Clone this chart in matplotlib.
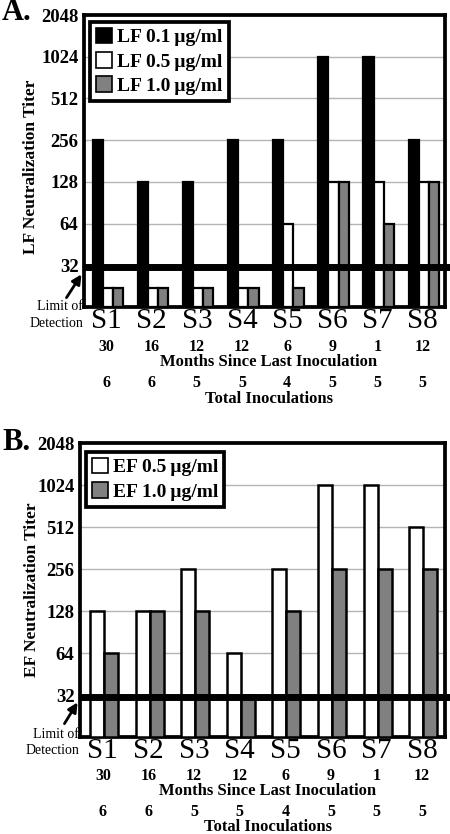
import matplotlib
matplotlib.use("Agg")
import matplotlib.pyplot as plt
from matplotlib.transforms import blended_transform_factory
from matplotlib.patches import Patch, FancyArrowPatch

plt.rcParams['font.family'] = ['Liberation Serif', 'DejaVu Serif']

subjects = ["S1", "S2", "S3", "S4", "S5", "S6", "S7", "S8"]
months = ["30", "16", "12", "12", "6", "9", "1", "12"]
total_inoc = ["6", "6", "5", "5", "4", "5", "5", "5"]

lf_01 = [256, 128, 128, 256, 256, 1024, 1024, 256]
lf_05 = [22, 22, 22, 22, 64, 128, 128, 128]
lf_10 = [22, 22, 22, 22, 22, 128, 64, 128]

ef_05 = [128, 128, 256, 64, 256, 1024, 1024, 512]
ef_10 = [64, 128, 128, 32, 128, 256, 256, 256]

yticks = [32, 64, 128, 256, 512, 1024, 2048]
limit_of_detection = 31

W, H = 450, 834
fig = plt.figure(figsize=(W / 100, H / 100), dpi=100)


def fx(px):
    return px / W


def fy(py):
    return 1 - py / H


def make_axes(left, right, top, bottom):
    return fig.add_axes([fx(left), fy(bottom), fx(right) - fx(left), fy(top) - fy(bottom)])


def style_axes(ax, ylabel):
    ax.set_yscale('log', base=2)
    ax.set_ylim(16, 2048)
    ax.set_xlim(-0.5, 7.5)
    ax.set_yticks(yticks)
    ax.set_yticklabels([str(t) for t in yticks], fontsize=13.5, fontweight='bold')
    ax.minorticks_off()
    ax.tick_params(axis='y', length=0, pad=4)
    ax.tick_params(axis='x', length=0, pad=1)
    ax.set_xticks(range(len(subjects)))
    ax.set_xticklabels(subjects, fontsize=21)
    ax.grid(axis='y', color='#b4b4b4', linewidth=1.0)
    ax.set_axisbelow(True)
    for s in ax.spines.values():
        s.set_linewidth(2.7)
    ax.set_ylabel(ylabel, fontsize=12.5, fontweight='bold')
    ax.plot([-0.5, 7.62], [limit_of_detection, limit_of_detection], color='black',
            linewidth=5, clip_on=False, zorder=5, solid_capstyle='butt')


def annotate_bottom(ax, y_months, y_mlabel, y_total, y_tlabel, xcenter_px):
    tr = blended_transform_factory(ax.transData, fig.transFigure)
    for i in range(len(subjects)):
        ax.text(i, fy(y_months), months[i], transform=tr, ha='center', va='center',
                fontsize=11.5, fontweight='bold')
        ax.text(i, fy(y_total), total_inoc[i], transform=tr, ha='center', va='center',
                fontsize=11.5, fontweight='bold')
    fig.text(fx(xcenter_px), fy(y_mlabel), "Months Since Last Inoculation", ha='center',
             va='center', fontsize=12, fontweight='bold')
    fig.text(fx(xcenter_px), fy(y_tlabel), "Total Inoculations", ha='center',
             va='center', fontsize=12, fontweight='bold')


def limit_text(y_limit, y_detect, right_px, arrow_tail, arrow_head):
    fig.text(fx(right_px), fy(y_limit), "Limit of", ha='right', va='center', fontsize=10)
    fig.text(fx(right_px), fy(y_detect), "Detection", ha='right', va='center', fontsize=10)
    fig.patches.append(FancyArrowPatch(
        (fx(arrow_tail[0]), fy(arrow_tail[1])), (fx(arrow_head[0]), fy(arrow_head[1])),
        transform=fig.transFigure, arrowstyle='-|>', mutation_scale=14,
        color='black', linewidth=2))


def make_legend(ax, handles, labels, anchor):
    leg = ax.legend(handles, labels, loc='upper left', bbox_to_anchor=anchor, fancybox=False,
                    handlelength=0.85, handleheight=0.85, handletextpad=0.25, borderpad=0.3,
                    labelspacing=0.3, borderaxespad=0.0,
                    prop={'size': 14, 'weight': 'bold'})
    leg.get_frame().set_edgecolor('black')
    leg.get_frame().set_linewidth(2.7)
    leg.get_frame().set_alpha(1)
    leg.set_zorder(10)
    return leg


xs = list(range(len(subjects)))
base = 16

# ---------------- Panel A ----------------
axA = make_axes(84, 445, 15, 307)
bw = 0.225
sh = 0.03
axA.bar([x - bw + sh for x in xs], [v - base for v in lf_01], bottom=base, width=bw,
        color='black', edgecolor='black', linewidth=1.6, zorder=3)
axA.bar([x + sh for x in xs], [v - base for v in lf_05], bottom=base, width=bw,
        color='white', edgecolor='black', linewidth=1.6, zorder=3)
axA.bar([x + bw + sh for x in xs], [v - base for v in lf_10], bottom=base, width=bw,
        color='#808080', edgecolor='black', linewidth=1.6, zorder=3)
style_axes(axA, "LF Neutralization Titer")
axA.yaxis.set_label_coords(-0.125, 0.48)
hA = [Patch(facecolor='black', edgecolor='black', linewidth=1.2),
      Patch(facecolor='white', edgecolor='black', linewidth=1.2),
      Patch(facecolor='#808080', edgecolor='black', linewidth=1.2)]
make_legend(axA, hA, ["LF 0.1\u2009\u00b5g/ml", "LF 0.5\u2009\u00b5g/ml", "LF 1.0\u2009\u00b5g/ml"],
            (0.017, 0.976))
fig.text(fx(2), fy(13), "A.", ha='left', va='center', fontsize=22, fontweight='bold')
annotate_bottom(axA, 347, 362, 383, 399, 269)
limit_text(307, 323, 83, (65, 300), (83, 272))

# ---------------- Panel B ----------------
axB = make_axes(80, 445, 443, 737)
bw2 = 0.307
sh2 = 0.025
axB.bar([x - bw2 / 2 + sh2 for x in xs], [v - base for v in ef_05], bottom=base, width=bw2,
        color='white', edgecolor='black', linewidth=1.8, zorder=3)
axB.bar([x + bw2 / 2 + sh2 for x in xs], [v - base for v in ef_10], bottom=base, width=bw2,
        color='#808080', edgecolor='black', linewidth=1.8, zorder=3)
style_axes(axB, "EF Neutralization Titer")
axB.yaxis.set_label_coords(-0.11, 0.5)
hB = [Patch(facecolor='white', edgecolor='black', linewidth=1.2),
      Patch(facecolor='#808080', edgecolor='black', linewidth=1.2)]
make_legend(axB, hB, ["EF 0.5\u2009\u00b5g/ml", "EF 1.0\u2009\u00b5g/ml"], (0.016, 0.969))
fig.text(fx(2), fy(443), "B.", ha='left', va='center', fontsize=22, fontweight='bold')
annotate_bottom(axB, 776, 791, 812, 827, 268)
limit_text(734, 751, 79, (63, 726), (79, 700))

fig.savefig("out.png", dpi=100)
